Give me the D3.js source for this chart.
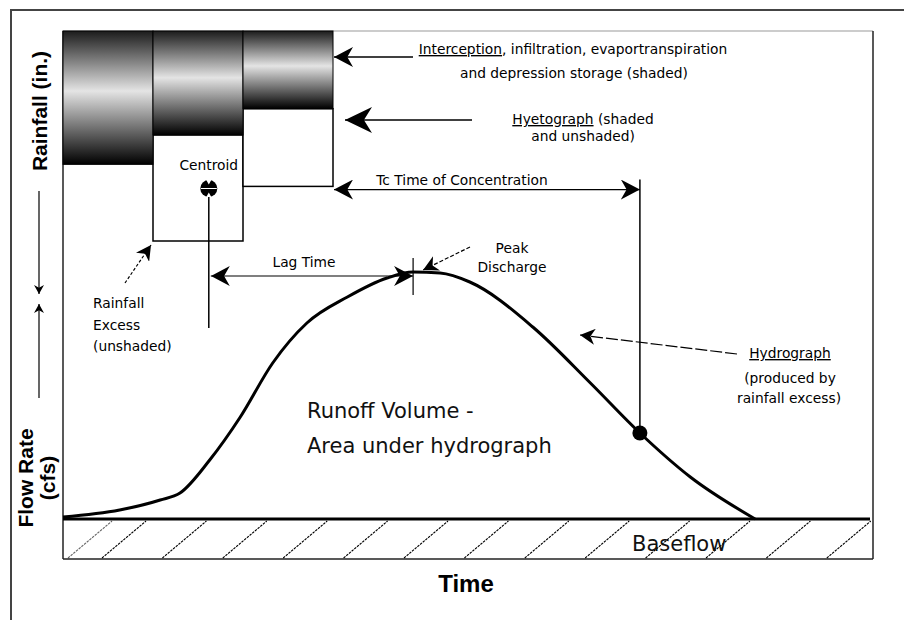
<!DOCTYPE html>
<html>
<head>
<meta charset="utf-8">
<script src="https://cdn.jsdelivr.net/npm/d3@7"></script>
<style>
  body { margin: 0; background: #fff; }
  svg { display: block; }
  .note { font-family: "DejaVu Sans", sans-serif; font-size: 13.8px; fill: #000; }
  .big { font-family: "DejaVu Sans", sans-serif; font-size: 21px; fill: #111; }
  .axis-title { font-family: "Liberation Sans", Arial, sans-serif; font-weight: bold; font-size: 21px; fill: #000; }
</style>
</head>
<body>
<div id="chart"></div>
<script>
// Rainfall (hyetograph) bars, one per time interval
const rainStart = [0, 1, 2];
const rainLoss = [1.27, 0.99, 0.74];     // shaded part (in.)
const rainExcess = [0, 1.01, 0.74];      // unshaded part (in.)

// Hydrograph
const hydroTime = [0, 0.63, 1.08, 1.30, 1.63, 1.97, 2.33, 2.71, 3.16, 3.60, 3.89, 4.19, 4.52, 5.22, 5.86, 6.41, 6.97, 7.69];
const hydroFlow = [0.8, 3.6, 7.6, 10.4, 23.6, 40.8, 62.4, 78.4, 88.8, 96.4, 98.8, 98.4, 94.8, 76.8, 54.4, 34.4, 16.8, 0];

// key times
const centroidTime = 1.62, centroidDepth = 1.5;
const peakTime = 3.89, lagFlow = 97.2;
const tcEndTime = 6.41, tcDepth = 1.51;
const tcFlow = 34.4;

const W = 904, H = 620;
const x = d3.scaleLinear().domain([0, 9]).range([63, 873]);
const yFlow = d3.scaleLinear().domain([0, 100]).range([519, 269]);
const yRain = d3.scaleLinear().domain([0, 2]).range([31, 241]);

const svg = d3.select("#chart").append("svg")
    .attr("width", W).attr("height", H);

const defs = svg.append("defs");
const grad = defs.append("linearGradient").attr("id", "shade")
    .attr("x1", 0).attr("y1", 0).attr("x2", 0).attr("y2", 1);
grad.append("stop").attr("offset", "0%").attr("stop-color", "#1c1c1c");
grad.append("stop").attr("offset", "45%").attr("stop-color", "#e4e4e4");
grad.append("stop").attr("offset", "100%").attr("stop-color", "#000");

function marker(id, len, half) {
    defs.append("marker")
        .attr("id", id)
        .attr("viewBox", "0 -10 20 20")
        .attr("refX", 20).attr("refY", 0)
        .attr("markerUnits", "userSpaceOnUse")
        .attr("markerWidth", len).attr("markerHeight", half * 2)
        .attr("preserveAspectRatio", "none")
        .attr("orient", "auto-start-reverse")
        .append("path")
        .attr("d", "M0,-10 L20,0 L0,10 L6,0 Z")
        .attr("fill", "#000");
}
marker("arrBig", 19, 10);
marker("arrHuge", 27, 13);
marker("arrSmall", 15, 8);
marker("arrAxis", 9, 5);

// outer frame
svg.append("path")
    .attr("d", "M11,620 L11,10 L904,10")
    .attr("fill", "none").attr("stroke", "#444").attr("stroke-width", 2);

// inner frame
svg.append("line").attr("x1", 63).attr("x2", 873).attr("y1", 31).attr("y2", 31)
    .attr("stroke", "#999").attr("stroke-width", 1);
svg.append("line").attr("x1", 873).attr("x2", 873).attr("y1", 31).attr("y2", 559)
    .attr("stroke", "#222").attr("stroke-width", 1.5);
svg.append("line").attr("x1", 63).attr("x2", 63).attr("y1", 31).attr("y2", 559)
    .attr("stroke", "#222").attr("stroke-width", 1.5);
svg.append("line").attr("x1", 63).attr("x2", 873).attr("y1", 559).attr("y2", 559)
    .attr("stroke", "#222").attr("stroke-width", 1.5);

// baseflow hatching
const hatch = svg.append("g").attr("stroke", "#000").attr("stroke-width", 1.1)
    .attr("stroke-dasharray", "2.5,1");
[68].concat(d3.range(102, 860, 60.4)).forEach((bx, i) => {
    const ex = Math.min(bx + 44, 871);
    hatch.append("line")
        .attr("x1", bx).attr("y1", 558)
        .attr("x2", ex).attr("y2", 558 - (ex - bx) * 37 / 44)
        .attr("opacity", i === 0 ? 0.6 : 1);
});

// rainfall bars: excess (unshaded) then losses (shaded)
svg.selectAll(".excess").data(rainStart.map((t, i) => ({t, loss: rainLoss[i], ex: rainExcess[i]})).filter(d => d.ex > 0))
    .enter().append("rect")
    .attr("x", d => x(d.t)).attr("width", d => x(d.t + 1) - x(d.t))
    .attr("y", d => yRain(d.loss)).attr("height", d => yRain(d.loss + d.ex) - yRain(d.loss))
    .attr("fill", "#fff").attr("stroke", "#000").attr("stroke-width", 1.5);

svg.selectAll(".loss").data(rainStart.map((t, i) => ({t, loss: rainLoss[i]})))
    .enter().append("rect")
    .attr("x", d => x(d.t)).attr("width", d => x(d.t + 1) - x(d.t))
    .attr("y", yRain(0)).attr("height", d => yRain(d.loss) - yRain(0))
    .attr("fill", "url(#shade)").attr("stroke", "#000").attr("stroke-width", 1);

// baseflow line
svg.append("line").attr("x1", 63).attr("x2", 870).attr("y1", yFlow(0)).attr("y2", yFlow(0))
    .attr("stroke", "#000").attr("stroke-width", 3);

// hydrograph
const line = d3.line().x((d, i) => x(hydroTime[i])).y(d => yFlow(d)).curve(d3.curveMonotoneX);
svg.append("path").datum(hydroFlow)
    .attr("d", line)
    .attr("fill", "none").attr("stroke", "#000").attr("stroke-width", 3);

// centroid
const cx = x(centroidTime), cy = yRain(centroidDepth);
svg.append("line").attr("x1", cx).attr("x2", cx).attr("y1", cy).attr("y2", 328)
    .attr("stroke", "#000").attr("stroke-width", 1.5);
svg.append("circle").attr("cx", cx).attr("cy", cy).attr("r", 8.5).attr("fill", "#000");
svg.append("path")
    .attr("d", `M${cx - 2.5},${cy - 8.5} L${cx + 2.5},${cy - 8.5} L${cx},${cy - 4} Z M${cx - 2.5},${cy + 8.5} L${cx + 2.5},${cy + 8.5} L${cx},${cy + 4} Z`)
    .attr("fill", "#fff");
svg.append("line").attr("x1", cx - 8).attr("x2", cx + 8).attr("y1", cy).attr("y2", cy)
    .attr("stroke", "#fff").attr("stroke-width", 1);
svg.append("text").attr("class", "note").attr("x", cx).attr("y", 170)
    .attr("text-anchor", "middle").text("Centroid");

// Lag time
const lagY = yFlow(lagFlow);
svg.append("line").attr("x1", cx + 2).attr("x2", x(peakTime)).attr("y1", lagY).attr("y2", lagY)
    .attr("stroke", "#000").attr("stroke-width", 1.2)
    .attr("marker-start", "url(#arrBig)").attr("marker-end", "url(#arrBig)");
svg.append("line").attr("x1", x(peakTime)).attr("x2", x(peakTime)).attr("y1", lagY - 18).attr("y2", lagY + 19)
    .attr("stroke", "#000").attr("stroke-width", 1.2);
svg.append("text").attr("class", "note").attr("x", 304).attr("y", 267)
    .attr("text-anchor", "middle").text("Lag Time");

// Peak discharge
svg.append("line").attr("x1", 470).attr("y1", 247).attr("x2", x(peakTime) + 10).attr("y2", yFlow(98.8) - 2)
    .attr("stroke", "#000").attr("stroke-width", 1.2).attr("stroke-dasharray", "4,2")
    .attr("marker-end", "url(#arrSmall)");
svg.append("text").attr("class", "note").attr("x", 512).attr("y", 253).attr("text-anchor", "middle").text("Peak");
svg.append("text").attr("class", "note").attr("x", 512).attr("y", 272).attr("text-anchor", "middle").text("Discharge");

// Time of concentration
const tcY = yRain(tcDepth);
svg.append("line").attr("x1", x(3) + 1).attr("x2", x(tcEndTime)).attr("y1", tcY).attr("y2", tcY)
    .attr("stroke", "#000").attr("stroke-width", 1.2)
    .attr("marker-start", "url(#arrBig)").attr("marker-end", "url(#arrBig)");
svg.append("line").attr("x1", x(tcEndTime)).attr("x2", x(tcEndTime)).attr("y1", tcY - 10).attr("y2", yFlow(tcFlow))
    .attr("stroke", "#000").attr("stroke-width", 1.5);
svg.append("circle").attr("cx", x(tcEndTime)).attr("cy", yFlow(tcFlow)).attr("r", 7.5).attr("fill", "#000");
svg.append("text").attr("class", "note").attr("x", 462).attr("y", 185)
    .attr("text-anchor", "middle").text("Tc Time of Concentration");

// Interception label
svg.append("line").attr("x1", 413).attr("x2", x(3) + 1).attr("y1", 57).attr("y2", 57)
    .attr("stroke", "#000").attr("stroke-width", 1.5).attr("marker-end", "url(#arrBig)");
const t1 = svg.append("text").attr("class", "note").attr("x", 573).attr("y", 54).attr("text-anchor", "middle");
t1.append("tspan").attr("text-decoration", "underline").text("Interception");
t1.append("tspan").text(", infiltration, evaportranspiration");
svg.append("text").attr("class", "note").attr("x", 574).attr("y", 78).attr("text-anchor", "middle")
    .text("and depression storage (shaded)");

// Hyetograph label
svg.append("line").attr("x1", 472).attr("x2", 345).attr("y1", 120).attr("y2", 120)
    .attr("stroke", "#000").attr("stroke-width", 1.5).attr("marker-end", "url(#arrHuge)");
const t2 = svg.append("text").attr("class", "note").attr("x", 583).attr("y", 124).attr("text-anchor", "middle");
t2.append("tspan").attr("text-decoration", "underline").text("Hyetograph");
t2.append("tspan").text(" (shaded");
svg.append("text").attr("class", "note").attr("x", 583).attr("y", 141).attr("text-anchor", "middle")
    .text("and unshaded)");

// Hydrograph label
svg.append("line").attr("x1", 737).attr("y1", 354).attr("x2", 580).attr("y2", 335)
    .attr("stroke", "#000").attr("stroke-width", 1.2).attr("stroke-dasharray", "12,3")
    .attr("marker-end", "url(#arrSmall)");
const t3 = svg.append("text").attr("class", "note").attr("x", 790).attr("y", 358).attr("text-anchor", "middle");
t3.append("tspan").attr("text-decoration", "underline").text("Hydrograph");
svg.append("text").attr("class", "note").attr("x", 790).attr("y", 383).attr("text-anchor", "middle").text("(produced by");
svg.append("text").attr("class", "note").attr("x", 789).attr("y", 403).attr("text-anchor", "middle").text("rainfall excess)");

// Rainfall excess label
svg.append("line").attr("x1", 125).attr("y1", 283).attr("x2", 151).attr("y2", 245)
    .attr("stroke", "#000").attr("stroke-width", 1.2).attr("stroke-dasharray", "3,2")
    .attr("marker-end", "url(#arrSmall)");
["Rainfall", "Excess", "(unshaded)"].forEach((s, i) => {
    svg.append("text").attr("class", "note").attr("x", 93).attr("y", 308 + i * 21.5).text(s);
});

// Runoff volume
svg.append("text").attr("class", "big").attr("x", 307).attr("y", 418).text("Runoff Volume -");
svg.append("text").attr("class", "big").attr("x", 307).attr("y", 453).text("Area under hydrograph");
svg.append("text").attr("class", "big").attr("x", 632).attr("y", 551).text("Baseflow");

// axis titles
svg.append("text").attr("class", "axis-title").attr("text-anchor", "middle")
    .attr("transform", "translate(47,111) rotate(-90)").text("Rainfall (in.)");
svg.append("text").attr("class", "axis-title").attr("text-anchor", "middle")
    .attr("transform", "translate(33,478) rotate(-90)").text("Flow Rate");
svg.append("text").attr("class", "axis-title").attr("text-anchor", "middle")
    .attr("transform", "translate(55,478) rotate(-90)").text("(cfs)");
svg.append("text").attr("class", "axis-title").attr("text-anchor", "middle")
    .attr("x", 466).attr("y", 592).style("font-size", "24px").text("Time");

svg.append("line").attr("x1", 39).attr("x2", 39).attr("y1", 191).attr("y2", 294)
    .attr("stroke", "#000").attr("stroke-width", 1.2).attr("marker-end", "url(#arrAxis)");
svg.append("line").attr("x1", 39).attr("x2", 39).attr("y1", 398).attr("y2", 304)
    .attr("stroke", "#000").attr("stroke-width", 1.2).attr("marker-end", "url(#arrAxis)");
</script>
</body>
</html>
